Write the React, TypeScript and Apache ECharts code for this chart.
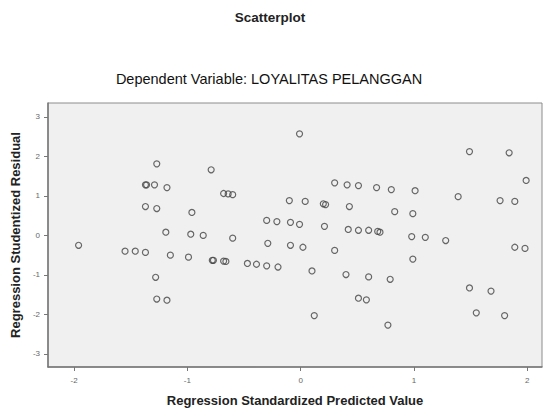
import React, { useEffect, useRef } from "react";
import * as echarts from "echarts";

const predicted: number[] = [
  -1.27, -0.79, -1.37, -1.36, -1.29, -1.18, -1.37, -1.27, -0.96, -1.19, -0.97, -0.86,
  -1.96, -1.55, -1.46, -1.37, -1.15, -0.99, -0.78, -1.28, -1.27, -1.18,
  -0.01, -0.68, -0.64, -0.6, 0.3, 0.41, 0.51, 0.67, -0.1, 0.04, 0.2, 0.22, 0.43,
  -0.3, -0.21, -0.09, -0.01, 0.21, 0.42, 0.51, 0.6, 0.68, -0.6,
  1.49, 1.84, 1.99, 0.8, 1.01, 1.39, 1.76, 1.89, 0.83, 0.99, 0.7, 0.98, 1.1,
  1.28, 1.89, 1.98, 0.99, 0.79, 1.49, 1.68, 1.55, 1.8, 0.77,
  -0.29, -0.09, 0.02, 0.3, -0.77, -0.68, -0.66, -0.47, -0.39, -0.3, -0.2, 0.1, 0.4, 0.6,
  0.51, 0.58, 0.12,
];
const residual: number[] = [
  1.81, 1.66, 1.28, 1.28, 1.28, 1.21, 0.73, 0.68, 0.58, 0.08, 0.03, 0.0,
  -0.25, -0.4, -0.4, -0.43, -0.5, -0.55, -0.63, -1.06, -1.61, -1.64,
  2.57, 1.06, 1.05, 1.03, 1.33, 1.28, 1.26, 1.21, 0.88, 0.86, 0.8, 0.78, 0.73,
  0.38, 0.35, 0.33, 0.28, 0.23, 0.15, 0.13, 0.13, 0.1, -0.07,
  2.12, 2.09, 1.39, 1.16, 1.13, 0.98, 0.88, 0.86, 0.6, 0.55, 0.08, -0.03, -0.05,
  -0.13, -0.3, -0.33, -0.6, -1.11, -1.33, -1.41, -1.96, -2.03, -2.27,
  -0.2, -0.25, -0.3, -0.38, -0.63, -0.65, -0.66, -0.71, -0.73, -0.77, -0.8, -0.9, -0.99, -1.05,
  -1.59, -1.63, -2.03,
];
const xTicks: number[] = [-2, -1, 0, 1, 2];
const yTicks: number[] = [-3, -2, -1, 0, 1, 2, 3];

const titleText = "Scatterplot";
const subtitleText = "Dependent Variable: LOYALITAS PELANGGAN";
const xName = "Regression Standardized Predicted Value";
const yName = "Regression Studentized Residual";

export default function App() {
  const ref = useRef<HTMLDivElement>(null);
  useEffect(() => {
    if (!ref.current) return;
    const chart = echarts.init(ref.current, undefined, { renderer: "svg" });
    const data = predicted.map((x, i) => [x, residual[i]]);
    const font = "Liberation Sans, Arial, sans-serif";
    chart.setOption({
      animation: false,
      backgroundColor: "#ffffff",
      title: [
        {
          text: titleText,
          left: 265,
          top: 5,
          textAlign: "center",
          textStyle: { fontFamily: font, fontSize: 13.5, fontWeight: "bold", color: "#222" },
        },
        {
          text: subtitleText,
          left: 264,
          top: 66,
          textAlign: "center",
          textStyle: { fontFamily: font, fontSize: 14.5, fontWeight: "normal", color: "#111" },
        },
      ],
      grid: {
        left: 48,
        right: 6,
        top: 103,
        bottom: 45,
        show: true,
        backgroundColor: "#f0f0f0",
        borderColor: "#8c8c8c",
        borderWidth: 1,
      },
      xAxis: {
        type: "value",
        min: -2.23,
        max: 2.13,
        name: xName,
        nameLocation: "middle",
        nameGap: 27,
        nameTextStyle: { fontFamily: font, fontSize: 13, fontWeight: "bold", color: "#222" },
        splitLine: { show: false },
        axisLine: { show: true, onZero: false, lineStyle: { color: "#777", width: 1.5 } },
        axisTick: { show: true, customValues: xTicks, length: 4, lineStyle: { color: "#777" } },
        axisLabel: {
          customValues: xTicks,
          fontFamily: font,
          fontSize: 8,
          color: "#666",
          margin: 9,
        },
      },
      yAxis: {
        type: "value",
        min: -3.33,
        max: 3.35,
        name: yName,
        nameLocation: "middle",
        nameGap: 25,
        nameTextStyle: { fontFamily: font, fontSize: 13, fontWeight: "bold", color: "#222" },
        splitLine: { show: false },
        axisLine: { show: true, onZero: false, lineStyle: { color: "#777", width: 1.5 } },
        axisTick: { show: true, customValues: yTicks, length: 4, lineStyle: { color: "#777" } },
        axisLabel: {
          customValues: yTicks,
          fontFamily: font,
          fontSize: 8,
          color: "#666",
          margin: 8,
        },
      },
      series: [
        {
          type: "scatter",
          data,
          symbol: "circle",
          symbolSize: 6,
          itemStyle: { color: "transparent", borderColor: "#444", borderWidth: 1.2 },
        },
      ],
    });
    return () => chart.dispose();
  }, []);
  return (
    <div
      ref={ref}
      style={{ position: "absolute", left: 0, top: 0, width: 548, height: 412 }}
    />
  );
}
